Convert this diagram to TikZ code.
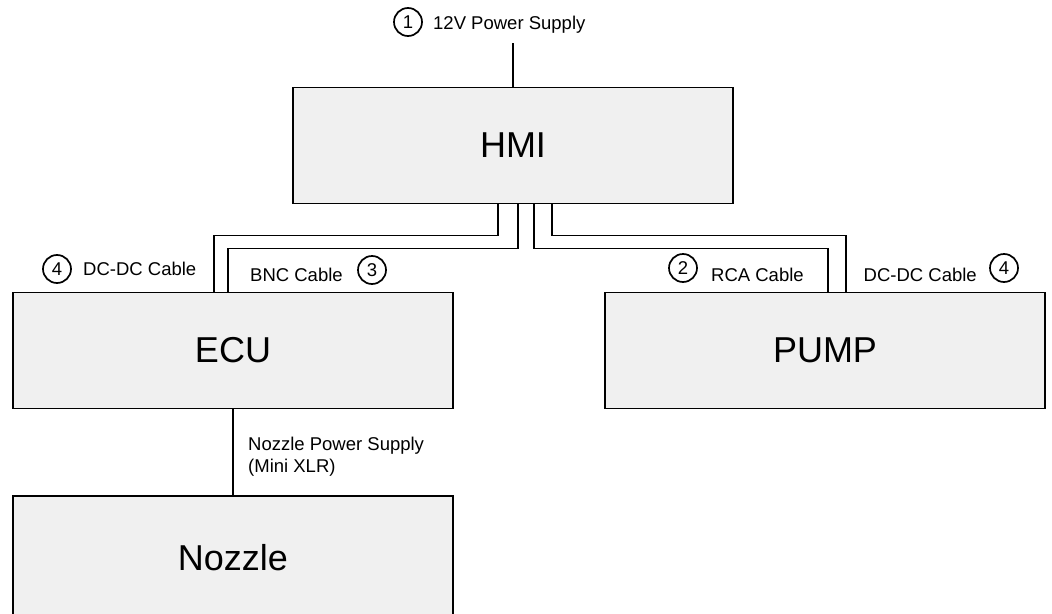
\documentclass[tikz,border=0pt]{standalone}
\usepackage{fontspec}
\setmainfont{Liberation Sans}
\usepackage{xcolor}
\usetikzlibrary{positioning}

\definecolor{boxgray}{HTML}{F0F0F0}

\begin{document}
\begin{tikzpicture}[
        x=1pt, y=-1pt,
        every node/.style={font=\fontsize{18.5}{22}\selectfont},
        unit/.style={draw, rectangle, line width=1.8pt, fill=boxgray, minimum width=440pt, minimum height=116pt, font=\fontsize{36}{40}\selectfont},
        num/.style={draw, circle, line width=1.7pt, minimum size=28pt, inner sep=0pt},
        lbl/.style={anchor=base west, inner sep=0pt},
        cable/.style={line width=1.8pt},
    ]
        \useasboundingbox (0,0) rectangle (1052,613);

        % Units
        \node (hmi) [unit] at (513,145.5) {HMI};
        \node (ecu) [unit] at (233,350.5) {ECU};
        \node (pump) [unit] at (825,350.5) {PUMP};
        \node (nozzle) [unit, minimum height=124pt] at (233,558) {Nozzle};

        % Supply end
        \coordinate (supply) at (513,43);

        % --- Cables ---
        \draw [cable] (supply) -- (hmi.north);
        \draw [cable] ([xshift=-15pt]hmi.south) -- ++(0,31) -| ([xshift=-19pt]ecu.north);
        \draw [cable] ([xshift=5pt]hmi.south) -- ++(0,44) -| ([xshift=-5pt]ecu.north);
        \draw [cable] ([xshift=21pt]hmi.south) -- ++(0,44) -| ([xshift=3pt]pump.north);
        \draw [cable] ([xshift=39pt]hmi.south) -- ++(0,31) -| ([xshift=21pt]pump.north);
        \draw [cable] (ecu.south) -- (nozzle.north);

        % --- Labels ---
        \node (n1) [num] at (408,22) {1};
        \node (l1) [lbl] at (433,29) {12V Power Supply};

        \node (n4a) [num] at (57,269) {4};
        \node (l4a) [lbl] at (83,275) {DC-DC Cable};
        \node (l3) [lbl] at (250,281) {BNC Cable};
        \node (n3) [num] at (372,270) {3};

        \node (n2) [num] at (683,268) {2};
        \node (l2) [lbl] at (711,281) {RCA Cable};
        \node (l4b) [lbl, anchor=base east] at (977,281) {DC-DC Cable};
        \node (n4b) [num] at (1004,268) {4};

        \node (lnoz) [anchor=north west, inner sep=0pt, align=left] at (248,437) {Nozzle Power Supply\\(Mini XLR)};

    \end{tikzpicture}
\end{document}
